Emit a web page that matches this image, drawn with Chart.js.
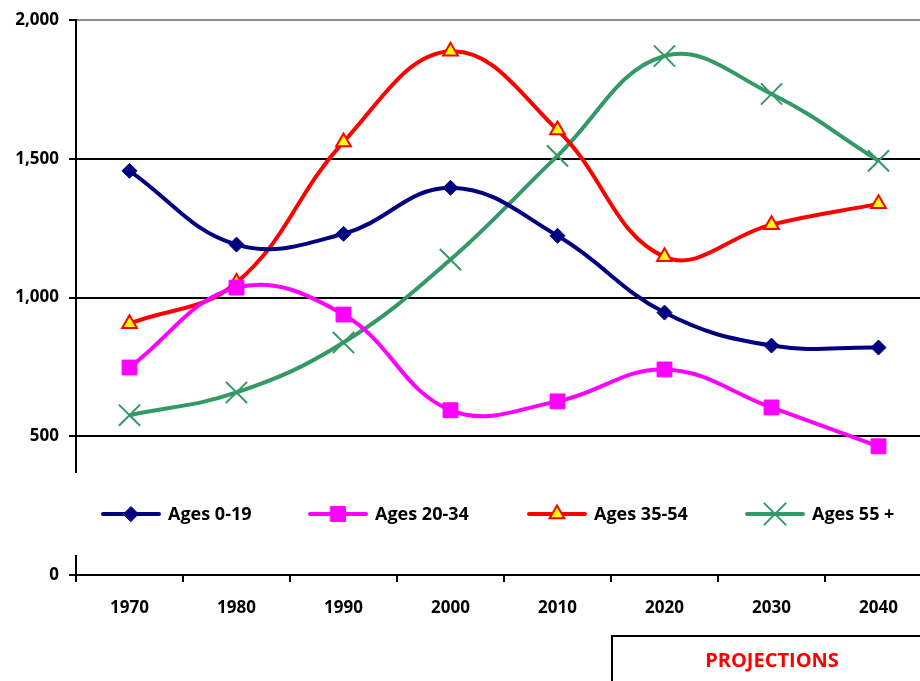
<!DOCTYPE html>
<html>
<head>
<meta charset="utf-8">
<script src="https://cdn.jsdelivr.net/npm/chart.js@4"></script>
<style>
  body { margin: 0; background: #fff; }
  #wrap { width: 920px; height: 681px; overflow: hidden; }
</style>
</head>
<body>
<div id="wrap"><canvas id="chartEdades" width="949" height="681"></canvas></div>
<script>
// Datos
const years = ['1970', '1980', '1990', '2000', '2010', '2020', '2030', '2040'];
const ages0to19 = [1457, 1191, 1230, 1396, 1223, 946, 827, 820];
const ages20to34 = [748, 1036, 939, 594, 626, 741, 604, 464];
const ages35to54 = [906, 1054, 1561, 1888, 1604, 1147, 1263, 1338];
const ages55plus = [576, 658, 838, 1137, 1511, 1871, 1734, 1493];
const yTicks = [0, 500, 1000, 1500, 2000];

const FONT = '"Open Sans", "Liberation Sans", sans-serif';

const series = [
  { label: 'Ages 0-19', data: ages0to19, color: '#000080', fill: '#000080', style: 'rectRot', radius: 7.5, bw: 1 },
  { label: 'Ages 20-34', data: ages20to34, color: '#FF00FF', fill: '#FF00FF', style: 'rect', radius: 10.5, bw: 1 },
  { label: 'Ages 35-54', data: ages35to54, color: '#FF0000', fill: '#FFFF00', style: 'triangle', radius: 8.5, bw: 2 },
  { label: 'Ages 55 +', data: ages55plus, color: '#339966', fill: '#339966', style: 'crossRot', radius: 15, bw: 2 }
];

// Leyenda dentro del area y cuadro de proyecciones
const extras = {
  id: 'extras',
  afterDraw(chart) {
    const ctx = chart.ctx;
    const x = chart.scales.x;
    ctx.save();
    // fondo blanco de la leyenda (corta el eje)
    ctx.fillStyle = '#fff';
    ctx.fillRect(70, 473, 880, 82);
    const starts = [103, 310, 529, 747];
    series.forEach((s, i) => {
      const lx = starts[i];
      const ly = 514;
      ctx.strokeStyle = s.color;
      ctx.lineWidth = 4;
      ctx.lineCap = 'round';
      ctx.beginPath();
      ctx.moveTo(lx, ly);
      ctx.lineTo(lx + 56, ly);
      ctx.stroke();
      ctx.fillStyle = s.fill;
      ctx.strokeStyle = s.color;
      ctx.lineWidth = s.bw;
      Chart.helpers.drawPoint(ctx, { pointStyle: s.style, radius: s.radius, borderWidth: s.bw, rotation: 0 }, lx + 28, ly);
      ctx.fillStyle = '#000';
      ctx.font = 'bold 18px ' + FONT;
      ctx.textAlign = 'left';
      ctx.textBaseline = 'middle';
      ctx.fillText(s.label, lx + 65, ly + 1);
    });
    // cuadro PROJECTIONS
    const bx = (x.getPixelForValue(4) + x.getPixelForValue(5)) / 2;
    ctx.strokeStyle = '#000';
    ctx.lineWidth = 2;
    ctx.strokeRect(bx + 1, 636, 400, 100);
    ctx.fillStyle = '#FF0000';
    ctx.font = 'bold 20px ' + FONT;
    ctx.textAlign = 'center';
    ctx.textBaseline = 'middle';
    ctx.fillText('PROJECTIONS', 772, 661);
    ctx.restore();
  }
};

const ctx = document.getElementById('chartEdades').getContext('2d');

const chartEdades = new Chart(ctx, {
  type: 'line',
  data: {
    labels: years,
    datasets: series.map(s => ({
      label: s.label,
      data: s.data,
      borderColor: s.color,
      backgroundColor: s.fill,
      borderWidth: 4,
      tension: 0.4,
      pointStyle: s.style,
      pointRadius: s.radius,
      pointHoverRadius: s.radius,
      pointBorderColor: s.color,
      pointBackgroundColor: s.fill,
      pointBorderWidth: s.bw
    }))
  },
  options: {
    responsive: false,
    animation: false,
    locale: 'en-US',
    layout: { padding: { top: 19, right: 2, left: 0, bottom: 0 } },
    plugins: {
      legend: { display: false },
      tooltip: { enabled: false }
    },
    scales: {
      x: {
        offset: true,
        afterFit(scale) {
          scale.height = 106;
        },
        grid: {
          offset: true,
          drawOnChartArea: false,
          color: '#000',
          lineWidth: 2,
          tickLength: 7
        },
        border: { color: '#000', width: 2 },
        ticks: {
          color: '#000',
          padding: 16,
          maxRotation: 0,
          font: { family: FONT, size: 17, weight: 'bold' }
        }
      },
      y: {
        min: 0,
        max: 2000,
        afterFit(scale) {
          scale.width = 76;
        },
        afterBuildTicks(scale) { scale.ticks = yTicks.map(v => ({ value: v })); },
        grid: {
          color: c => (c.tick && c.tick.value === 2000 ? '#8c8c8c' : '#000'),
          tickColor: '#000',
          lineWidth: 2,
          tickLength: 7
        },
        border: { color: '#000', width: 2 },
        ticks: {
          color: '#000',
          padding: 10,
          font: { family: FONT, size: 17, weight: 'bold' },
          callback: v => v.toLocaleString('en-US')
        }
      }
    }
  },
  plugins: [extras]
});
</script>
</body>
</html>
